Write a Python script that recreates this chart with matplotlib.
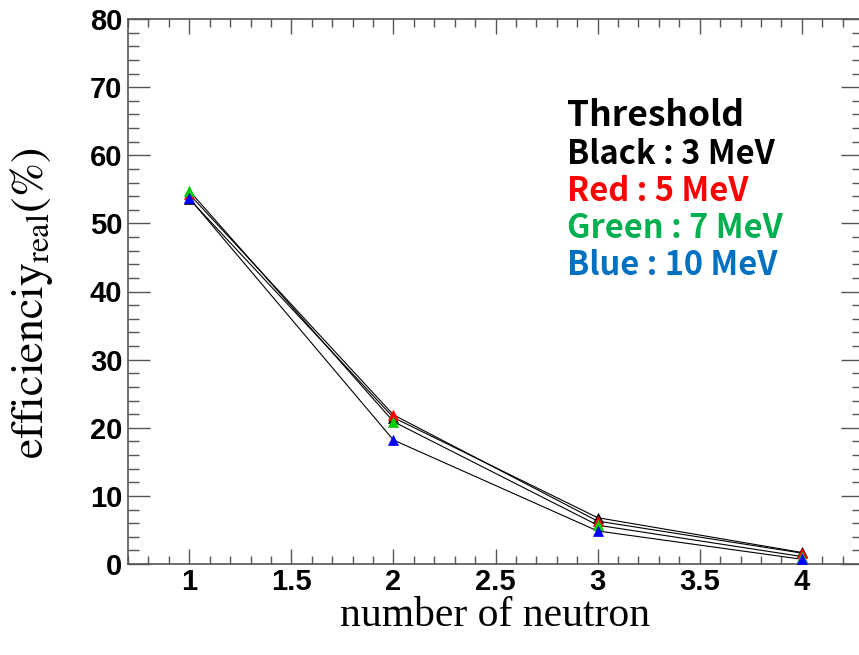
import numpy as np
import matplotlib
matplotlib.use("Agg")
import matplotlib.pyplot as plt
from matplotlib.ticker import MultipleLocator

# neutron multiplicity and reconstructed efficiency (%) for each threshold
n_neutron = [1, 2, 3, 4]
eff_3mev = [53.6, 21.5, 6.8, 1.7]
eff_5mev = [54.3, 21.9, 6.3, 1.6]
eff_7mev = [54.8, 20.9, 5.7, 1.1]
eff_10mev = [53.7, 18.2, 4.85, 0.7]

series = [
    (eff_3mev, "black"),
    (eff_5mev, "#ff0000"),
    (eff_7mev, "#00cc00"),
    (eff_10mev, "#0000ff"),
]

legend_lines = [
    ("Black : 3 MeV", "black"),
    ("Red : 5 MeV", "#ff0000"),
    ("Green : 7 MeV", "#00b050"),
    ("Blue : 10 MeV", "#0070c0"),
]

plt.rcParams["mathtext.fontset"] = "stix"

W, H = 859, 655
fig = plt.figure(figsize=(W / 100, H / 100), dpi=100)
# frame runs a little past the right border of the canvas
left, right, top, bottom = 128, 863, 19, 564
ax = fig.add_axes([left / W, 1 - bottom / H, (right - left) / W, (bottom - top) / H])

for vals, col in series:
    ax.plot(n_neutron, vals, color="black", lw=0.8, zorder=2)
for vals, col in series:
    ax.plot(n_neutron, vals, ls="none", marker="^", ms=7.5, mfc=col, mec=col,
            mew=0.5, zorder=3)

ax.set_xlim(0.7, 4.3)
ax.set_ylim(0, 80)
ax.xaxis.set_major_locator(MultipleLocator(0.5))
ax.xaxis.set_minor_locator(MultipleLocator(0.1))
ax.yaxis.set_major_locator(MultipleLocator(10))
ax.yaxis.set_minor_locator(MultipleLocator(2))
ax.set_xticks([1, 1.5, 2, 2.5, 3, 3.5, 4])
ax.set_xticklabels(["1", "1.5", "2", "2.5", "3", "3.5", "4"])

tick_col = "#555555"
for s in ax.spines.values():
    s.set_color(tick_col)
    s.set_linewidth(1.2)
ax.tick_params(which="both", direction="in", top=True, right=True, color=tick_col,
               width=1.0)
ax.tick_params(axis="x", which="major", length=11, pad=3)
ax.tick_params(axis="x", which="minor", length=6)
ax.tick_params(axis="y", which="major", length=16, pad=4)
ax.tick_params(axis="y", which="minor", length=8)
for lab in ax.get_xticklabels() + ax.get_yticklabels():
    lab.set_fontfamily("Liberation Sans")
    lab.set_fontweight("bold")
    lab.set_fontsize(21)

fig.text(495 / W, 1 - 626 / H, "number of neutron", ha="center", va="baseline",
         fontsize=30, fontfamily="Liberation Serif")
fig.text(32 / W, 1 - 303 / H, r"$\mathrm{efficienciy}_{\mathrm{real}}(\%)$",
         rotation=90, ha="center", va="center", fontsize=33)

fig.text(567 / W, 1 - 126 / H, "Threshold", ha="left", va="baseline",
         fontsize=25.5, fontweight="bold", fontfamily="Noto Sans CJK KR")
for i, (txt, col) in enumerate(legend_lines):
    fig.text(567 / W, 1 - (164 + 37 * i) / H, txt, ha="left", va="baseline",
             fontsize=23.5, fontweight="bold", color=col,
             fontfamily="Noto Sans CJK KR")

fig.savefig("out.png", dpi=100)
